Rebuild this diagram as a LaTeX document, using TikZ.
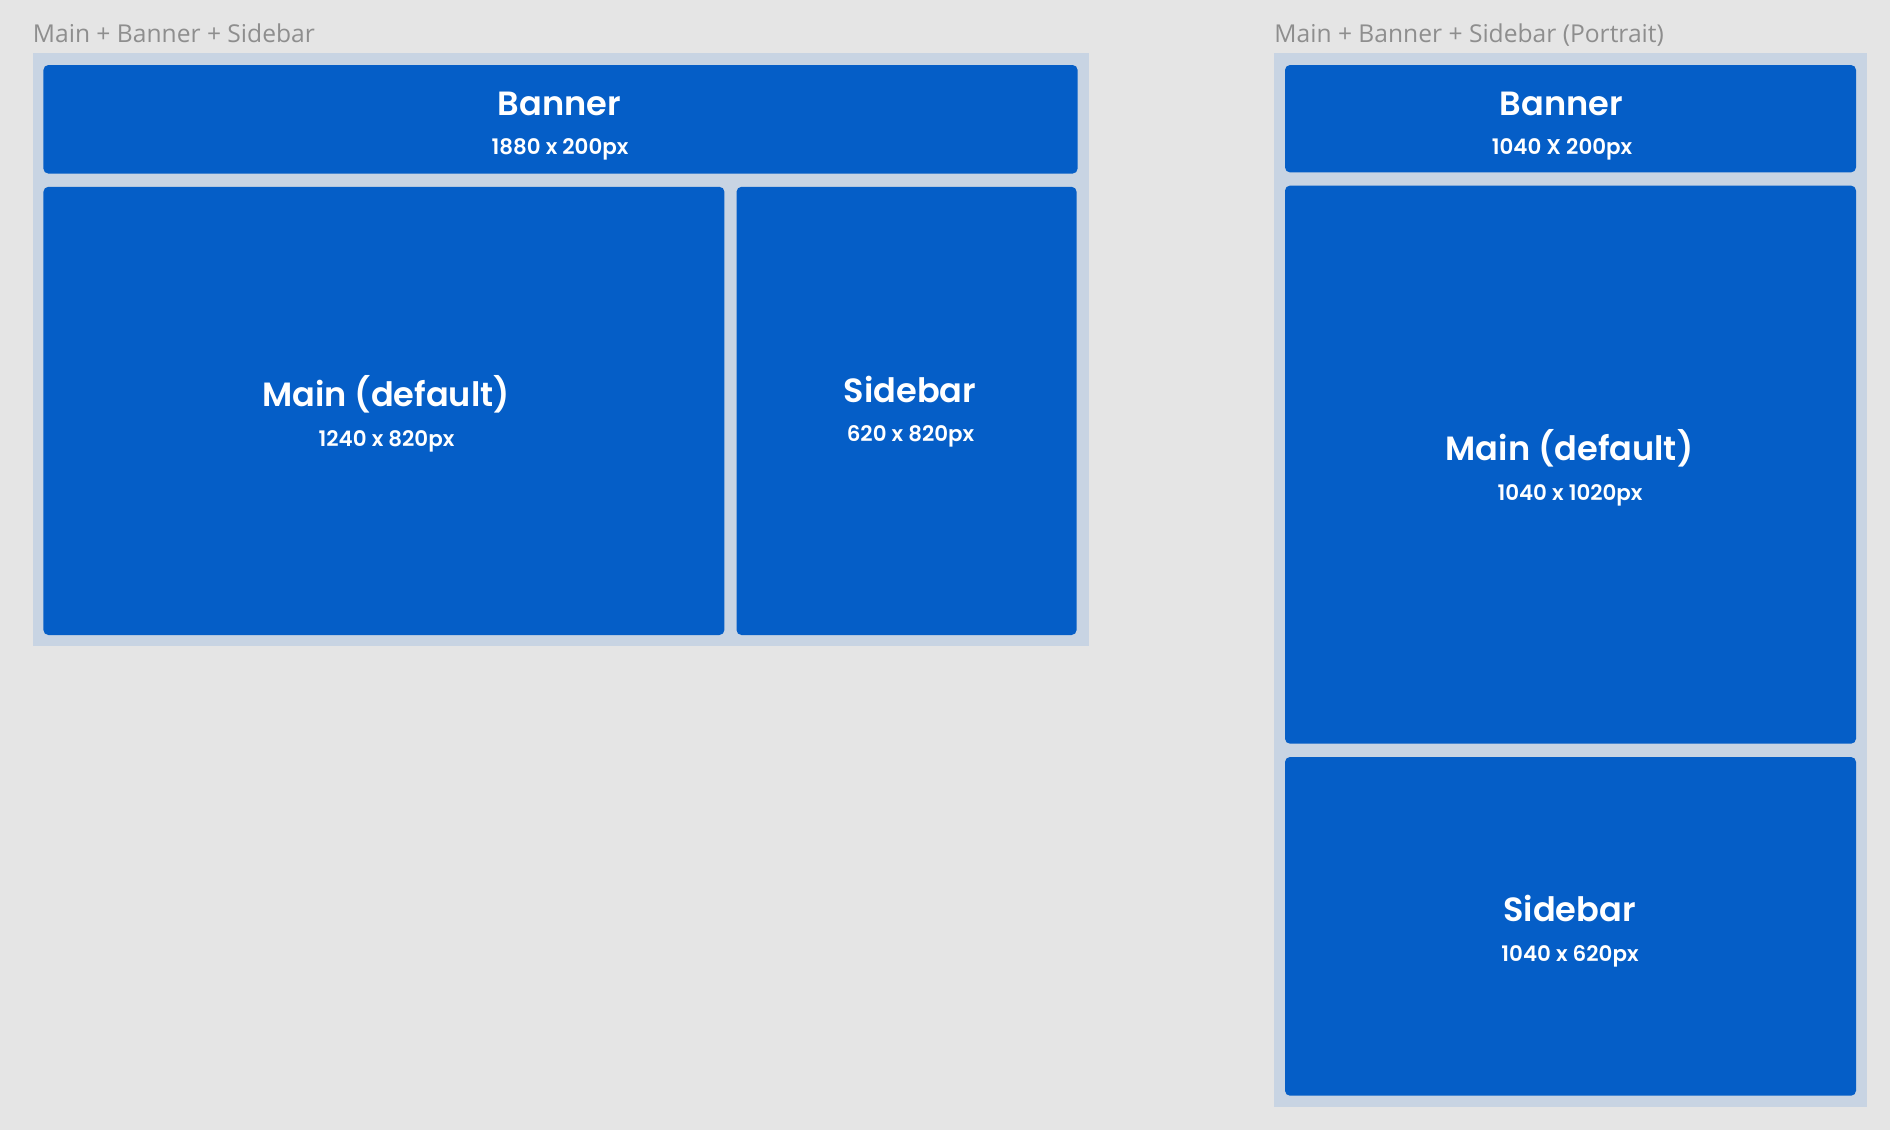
\documentclass[tikz,border=0pt]{standalone}
\usepackage{fontspec}
\newfontfamily\popsb{Poppins SemiBold}
\newfontfamily\popmd{Poppins SemiBold}
\newfontfamily\capfont{Open Sans}
\definecolor{bgc}{HTML}{E5E5E5}
\definecolor{framec}{HTML}{C8D4E3}
\definecolor{panec}{HTML}{055EC7}
\definecolor{capc}{HTML}{8E8E8E}
\tikzset{
  ttl/.style={text=white, font=\popsb\fontsize{16.8}{18}\selectfont, anchor=base, inner sep=0},
  subtxt/.style={text=white, font=\popmd\fontsize{10.7}{12}\selectfont, anchor=base, inner sep=0},
  captxt/.style={text=capc, font=\capfont\fontsize{12.3}{13}\selectfont, anchor=base west, inner sep=0},
  pane/.style={fill=panec, rounded corners=2.5pt},
  framebox/.style={fill=framec}
}
\begin{document}
\begin{tikzpicture}[x=0.5pt,y=-0.5pt]
\fill[bgc] (0,0) rectangle (1890,1130);
\useasboundingbox (0,0) rectangle (1890,1130);
% left layout
\node[captxt] (lcap) at (32.5,42) {Main + Banner + Sidebar};
\fill[framebox] (32.5,53) rectangle (1088.5,646);
\fill[pane] (43.4,65) rectangle (1077.6,173.6);
\fill[pane] (43.4,186.8) rectangle (724.4,635);
\fill[pane] (736.5,186.8) rectangle (1076.6,635);
\node[ttl] (lban) at (559.5,115.5) {Banner};
\node[subtxt] (lbansub) at (560,154.7) {1880 x 200px};
\node[ttl] (lmain) at (386,406.5) {Main (default)};
\node[subtxt] (lmainsub) at (386.5,446.7) {1240 x 820px};
\node[ttl] (lside) at (910,402) {Sidebar};
\node[subtxt] (lsidesub) at (910.5,441.7) {620 x 820px};
% right layout
\node[captxt] (rcap) at (1274,42) {Main + Banner + Sidebar (Portrait)};
\fill[framebox] (1274,53) rectangle (1867,1106.6);
\fill[pane] (1285,65) rectangle (1856,172.4);
\fill[pane] (1285,185.6) rectangle (1856,743.7);
\fill[pane] (1285,757) rectangle (1856,1095.7);
\node[ttl] (rban) at (1561.5,115.5) {Banner};
\node[subtxt] (rbansub) at (1562,154.7) {1040 X 200px};
\node[ttl] (rmain) at (1569.5,460) {Main (default)};
\node[subtxt] (rmainsub) at (1570,500.7) {1040 x 1020px};
\node[ttl] (rside) at (1569.5,921.5) {Sidebar};
\node[subtxt] (rsidesub) at (1570,961.2) {1040 x 620px};
\end{tikzpicture}
\end{document}
